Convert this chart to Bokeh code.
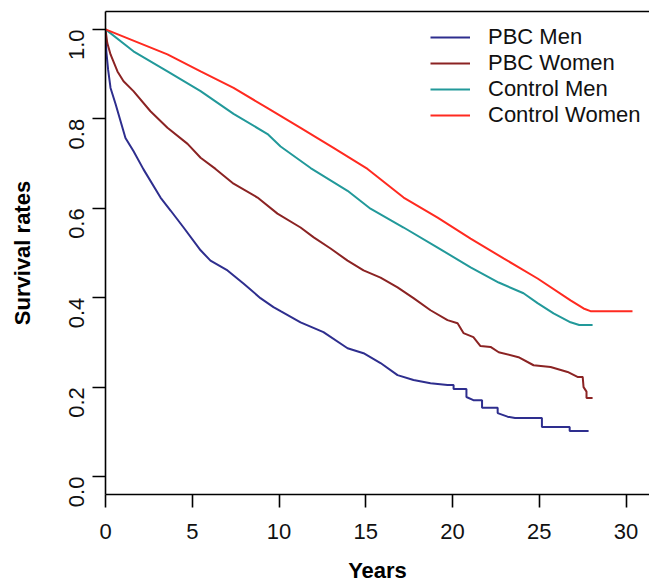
import math
from bokeh.plotting import figure
from bokeh.models import (FixedTicker, PrintfTickFormatter, Range1d, Legend, LegendItem,
                          LinearAxis)
from bokeh.embed import file_html
from bokeh.resources import INLINE

# ---- data ----
pbc_men_t = [0, 0.05, 0.15, 0.29, 0.58, 1.15, 1.61, 2.19, 3.17, 3.75, 4.5, 5.48, 6.05, 7.03,
             7.95, 8.93, 9.68, 10.09, 11.24, 12.56, 13.95, 14.87, 15.85, 16.83, 17.75, 18.73,
             19.71, 20.06, 20.06, 20.8, 20.8, 21.2, 21.7, 21.7, 22.6, 22.6, 23.17, 23.6,
             25.15, 25.15, 26.75, 26.75, 27.84]
pbc_men_s = [1.0, 0.95, 0.91, 0.869, 0.833, 0.757, 0.728, 0.687, 0.624, 0.595, 0.557, 0.506, 0.483, 0.461,
             0.432, 0.399, 0.379, 0.370, 0.345, 0.323, 0.287, 0.276, 0.254, 0.227, 0.216, 0.209,
             0.205, 0.205, 0.196, 0.196, 0.178, 0.171, 0.171, 0.154, 0.154, 0.142, 0.134, 0.131,
             0.131, 0.111, 0.111, 0.102, 0.102]

pbc_women_t = [0, 0.1, 0.29, 0.69, 1.04, 1.61, 2.59, 3.57, 4.73, 5.48, 6.34, 7.38, 8.76, 9.91,
               11.24, 12.0, 12.97, 13.95, 14.87, 15.85, 16.83, 17.75, 18.73, 19.71, 20.29, 20.63,
               21.2, 21.61, 22.19, 22.66, 23.8, 24.67, 25.65, 26.63, 27.2, 27.5, 27.55, 27.72, 27.72, 28.07]
pbc_women_s = [1.0, 0.97, 0.944, 0.906, 0.884, 0.862, 0.817, 0.78, 0.744, 0.713, 0.688, 0.655, 0.624, 0.588,
               0.557, 0.535, 0.51, 0.483, 0.461, 0.445, 0.423, 0.399, 0.372, 0.35, 0.343, 0.321,
               0.312, 0.292, 0.29, 0.278, 0.267, 0.249, 0.245, 0.234, 0.223, 0.223, 0.2, 0.19, 0.176, 0.176]

ctrl_men_t = [0, 1.61, 3.57, 5.48, 7.38, 9.34, 10.09, 11.82, 13.95, 15.27, 17.18, 19.14, 21.04,
              22.66, 24.09, 24.9, 25.82, 26.8, 27.3, 28.07]
ctrl_men_s = [1.0, 0.951, 0.906, 0.862, 0.811, 0.766, 0.738, 0.69, 0.639, 0.599, 0.557, 0.512, 0.468,
              0.434, 0.41, 0.388, 0.365, 0.345, 0.339, 0.339]

ctrl_women_t = [0, 3.57, 5.48, 7.38, 9.34, 11.24, 13.14, 15.1, 17.18, 19.14, 21.04, 22.94, 24.9,
                26.8, 27.55, 27.95, 30.37]
ctrl_women_s = [1.0, 0.944, 0.906, 0.869, 0.824, 0.78, 0.735, 0.688, 0.624, 0.579, 0.532, 0.488, 0.443,
                0.394, 0.376, 0.37, 0.37]

series_names = ["PBC Men", "PBC Women", "Control Men", "Control Women"]
series_colors = ["#2E2E8E", "#8B2323", "#22999A", "#FF2A20"]

x_ticks = [0, 5, 10, 15, 20, 25, 30]
y_ticks = [0.0, 0.2, 0.4, 0.6, 0.8, 1.0]

FONT = "Liberation Sans"

p = figure(width=649, height=585, output_backend="svg", toolbar_location=None,
           x_range=Range1d(0, 31.35), y_range=Range1d(-0.04, 1.04),
           min_border_left=105, min_border_right=0, min_border_top=11, min_border_bottom=91)
p.background_fill_color = "white"
p.border_fill_color = "white"
p.outline_line_color = None
p.xgrid.visible = False
p.ygrid.visible = False

renderers = []
for t, s, c in zip([pbc_men_t, pbc_women_t, ctrl_men_t, ctrl_women_t],
                   [pbc_men_s, pbc_women_s, ctrl_men_s, ctrl_women_s], series_colors):
    r = p.line(t, s, line_color=c, line_width=2)
    renderers.append(r)

for ax in (p.xaxis[0], p.yaxis[0]):
    ax.axis_line_color = "black"
    ax.axis_line_width = 1.6
    ax.major_tick_line_color = "black"
    ax.major_tick_line_width = 1.6
    ax.major_tick_out = 13
    ax.major_tick_in = 0
    ax.minor_tick_line_color = None
    ax.major_label_text_font = FONT
    ax.major_label_text_font_size = "22px"
    ax.major_label_text_color = "#111111"
    ax.axis_label_text_font = FONT
    ax.axis_label_text_font_size = "22px"
    ax.axis_label_text_font_style = "bold"
    ax.axis_label_text_color = "black"

p.xaxis.ticker = FixedTicker(ticks=x_ticks)
p.yaxis.ticker = FixedTicker(ticks=y_ticks)
p.yaxis.formatter = PrintfTickFormatter(format="%.1f")
p.yaxis.major_label_orientation = math.pi / 2
p.xaxis.major_label_standoff = 16
p.yaxis.major_label_standoff = 16
p.xaxis.axis_label = "Years"
p.yaxis.axis_label = "Survival rates"
p.xaxis.axis_label_standoff = 16
p.yaxis.axis_label_standoff = 24

# top border of the box (the right side is cropped off in the reference)
top_axis = LinearAxis(ticker=FixedTicker(ticks=[]), major_label_text_font_size="0px",
                      axis_line_color="black", axis_line_width=1.6,
                      major_tick_line_color=None, minor_tick_line_color=None)
p.add_layout(top_axis, "above")

legend = Legend(items=[LegendItem(label=n, renderers=[r]) for n, r in zip(series_names, renderers)],
                location=(325, 366))
legend.border_line_color = None
legend.background_fill_alpha = 0
legend.label_text_font = FONT
legend.label_text_font_size = "22px"
legend.label_text_color = "#111111"
legend.glyph_width = 40
legend.glyph_height = 26
legend.label_height = 26
legend.label_standoff = 18
legend.spacing = 0
legend.padding = 0
legend.margin = 0
p.add_layout(legend, "center")

open("out.html", "w").write(file_html(p, INLINE))
